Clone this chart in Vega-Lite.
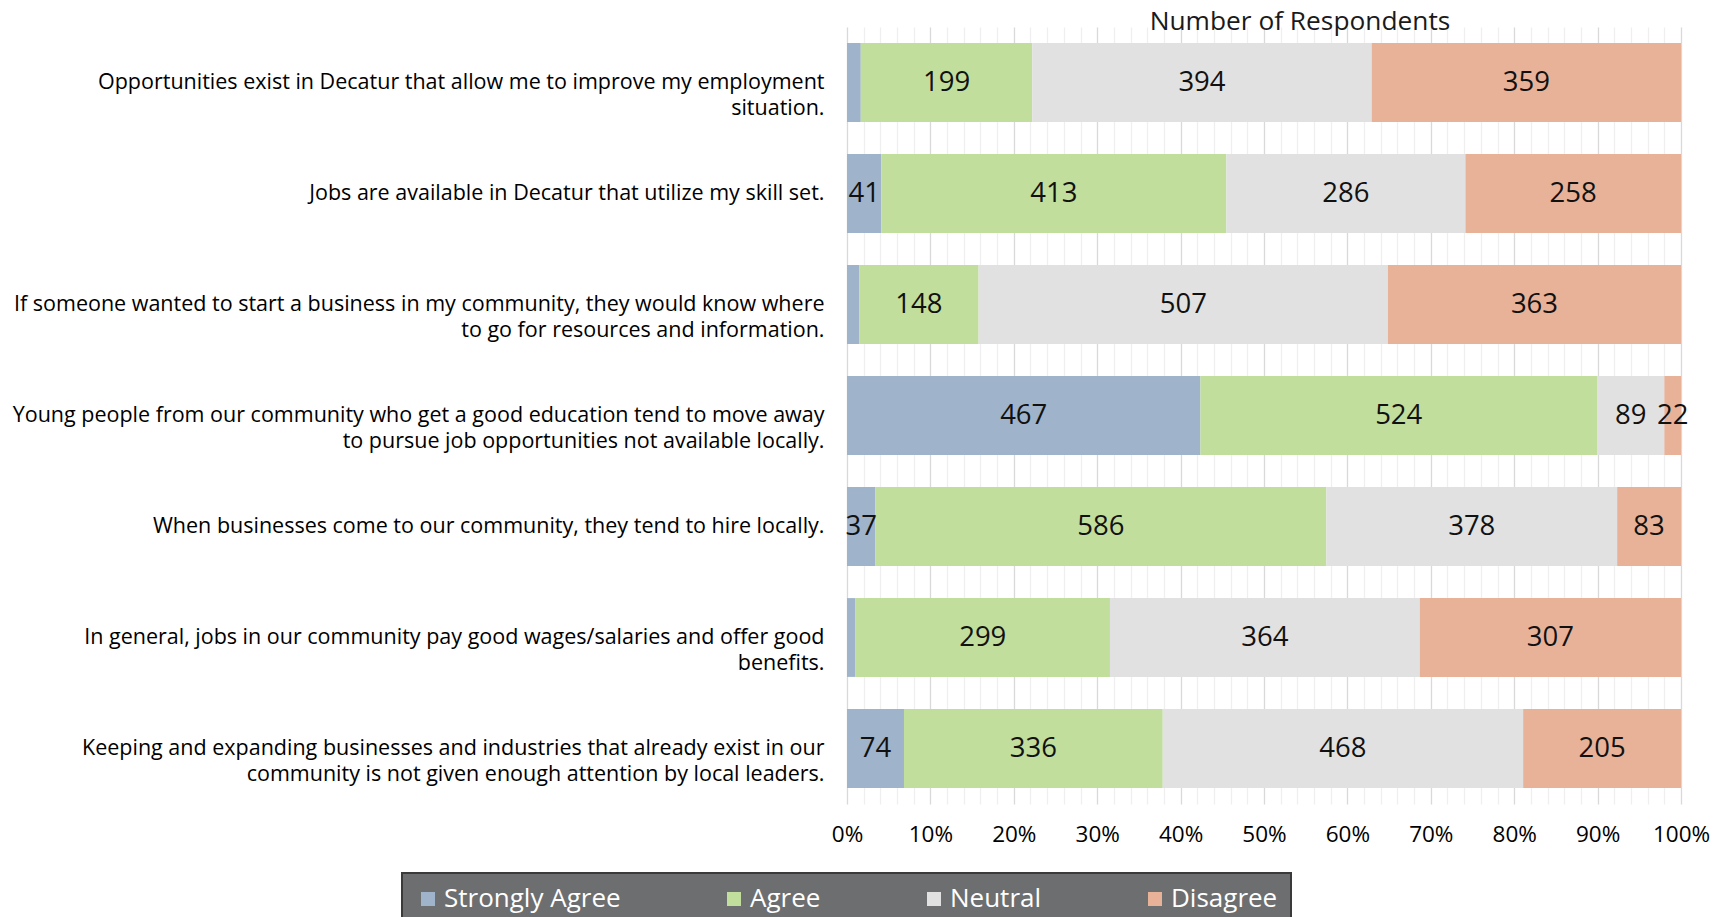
{
  "$schema": "https://vega.github.io/schema/vega-lite/v6.json",
  "autosize": {"type": "none"},
  "width": 834,
  "height": 777,
  "padding": {"left": 847, "top": 27, "right": 46, "bottom": 113},
  "background": "white",
  "title": {
    "text": "Number of Respondents",
    "font": "Open Sans",
    "fontSize": 26.3,
    "fontWeight": "normal",
    "color": "#1a1a1a",
    "anchor": "middle",
    "frame": "group",
    "baseline": "alphabetic",
    "offset": -29,
    "dx": 36
  },
  "data": {
    "values": [
      {"q": "Opportunities exist in Decatur that allow me to improve my employment|situation.", "resp": "Strongly Agree", "level": 1, "count": 16},
      {"q": "Opportunities exist in Decatur that allow me to improve my employment|situation.", "resp": "Agree", "level": 2, "count": 199},
      {"q": "Opportunities exist in Decatur that allow me to improve my employment|situation.", "resp": "Neutral", "level": 3, "count": 394},
      {"q": "Opportunities exist in Decatur that allow me to improve my employment|situation.", "resp": "Disagree", "level": 4, "count": 359},
      {"q": "Jobs are available in Decatur that utilize my skill set.", "resp": "Strongly Agree", "level": 1, "count": 41},
      {"q": "Jobs are available in Decatur that utilize my skill set.", "resp": "Agree", "level": 2, "count": 413},
      {"q": "Jobs are available in Decatur that utilize my skill set.", "resp": "Neutral", "level": 3, "count": 286},
      {"q": "Jobs are available in Decatur that utilize my skill set.", "resp": "Disagree", "level": 4, "count": 258},
      {"q": "If someone wanted to start a business in my community, they would know where|to go for resources and information.", "resp": "Strongly Agree", "level": 1, "count": 15},
      {"q": "If someone wanted to start a business in my community, they would know where|to go for resources and information.", "resp": "Agree", "level": 2, "count": 148},
      {"q": "If someone wanted to start a business in my community, they would know where|to go for resources and information.", "resp": "Neutral", "level": 3, "count": 507},
      {"q": "If someone wanted to start a business in my community, they would know where|to go for resources and information.", "resp": "Disagree", "level": 4, "count": 363},
      {"q": "Young people from our community who get a good education tend to move away|to pursue job opportunities not available locally.", "resp": "Strongly Agree", "level": 1, "count": 467},
      {"q": "Young people from our community who get a good education tend to move away|to pursue job opportunities not available locally.", "resp": "Agree", "level": 2, "count": 524},
      {"q": "Young people from our community who get a good education tend to move away|to pursue job opportunities not available locally.", "resp": "Neutral", "level": 3, "count": 89},
      {"q": "Young people from our community who get a good education tend to move away|to pursue job opportunities not available locally.", "resp": "Disagree", "level": 4, "count": 22},
      {"q": "When businesses come to our community, they tend to hire locally.", "resp": "Strongly Agree", "level": 1, "count": 37},
      {"q": "When businesses come to our community, they tend to hire locally.", "resp": "Agree", "level": 2, "count": 586},
      {"q": "When businesses come to our community, they tend to hire locally.", "resp": "Neutral", "level": 3, "count": 378},
      {"q": "When businesses come to our community, they tend to hire locally.", "resp": "Disagree", "level": 4, "count": 83},
      {"q": "In general, jobs in our community pay good wages/salaries and offer good|benefits.", "resp": "Strongly Agree", "level": 1, "count": 10},
      {"q": "In general, jobs in our community pay good wages/salaries and offer good|benefits.", "resp": "Agree", "level": 2, "count": 299},
      {"q": "In general, jobs in our community pay good wages/salaries and offer good|benefits.", "resp": "Neutral", "level": 3, "count": 364},
      {"q": "In general, jobs in our community pay good wages/salaries and offer good|benefits.", "resp": "Disagree", "level": 4, "count": 307},
      {"q": "Keeping and expanding businesses and industries that already exist in our|community is not given enough attention by local leaders.", "resp": "Strongly Agree", "level": 1, "count": 74},
      {"q": "Keeping and expanding businesses and industries that already exist in our|community is not given enough attention by local leaders.", "resp": "Agree", "level": 2, "count": 336},
      {"q": "Keeping and expanding businesses and industries that already exist in our|community is not given enough attention by local leaders.", "resp": "Neutral", "level": 3, "count": 468},
      {"q": "Keeping and expanding businesses and industries that already exist in our|community is not given enough attention by local leaders.", "resp": "Disagree", "level": 4, "count": 205}
    ]
  },
  "encoding": {
    "y": {
      "field": "q",
      "type": "nominal",
      "sort": null,
      "title": null,
      "scale": {"paddingInner": 0.29, "paddingOuter": 0.145},
      "axis": {
        "domain": false,
        "ticks": false,
        "grid": false,
        "labelExpr": "split(datum.label, '|')",
        "labelFont": "Open Sans",
        "labelFontSize": 21.5,
        "labelLineHeight": 26.5,
        "labelColor": "#000000",
        "labelPadding": 23,
        "labelLimit": 1000,
        "labelAlign": "right",
        "labelBaseline": "middle"
      }
    },
    "order": {"field": "level", "type": "quantitative", "sort": "ascending"}
  },
  "layer": [
    {
      "mark": {"type": "bar"},
      "encoding": {
        "x": {
          "aggregate": "sum",
          "field": "count",
          "type": "quantitative",
          "stack": "normalize",
          "title": null,
          "scale": {"domain": [0, 1], "nice": false},
          "axis": {
            "values": [0,0.02,0.04,0.06,0.08,0.1,0.12,0.14,0.16,0.18,0.2,0.22,0.24,0.26,0.28,0.3,0.32,0.34,0.36,0.38,0.4,0.42,0.44,0.46,0.48,0.5,0.52,0.54,0.56,0.58,0.6,0.62,0.64,0.66,0.68,0.7,0.72,0.74,0.76,0.78,0.8,0.82,0.84,0.86,0.88,0.9,0.92,0.94,0.96,0.98,1],
            "format": ".0%",
            "labelExpr": "round(datum.value*100) % 10 === 0 ? datum.label : ''",
            "domain": false,
            "ticks": false,
            "grid": true,
            "gridColor": {"condition": {"test": "round(datum.value*100) % 10 === 0", "value": "#d9d9d9"}, "value": "#efefef"},
            "gridWidth": 1.3,
            "labelFont": "Open Sans",
            "labelFontSize": 22.5,
            "labelColor": "#000000",
            "labelPadding": 19,
            "labelOverlap": false,
            "labelFlush": false
          }
        },
        "color": {
          "field": "resp",
          "type": "nominal",
          "sort": ["Strongly Agree", "Agree", "Neutral", "Disagree"],
          "scale": {
            "domain": ["Strongly Agree", "Agree", "Neutral", "Disagree"],
            "range": ["#9fb3cb", "#c1de9d", "#e1e1e1", "#e8b298"]
          },
          "legend": {
            "title": null,
            "orient": "none",
            "legendX": -445,
            "legendY": 846,
            "direction": "horizontal",
            "fillColor": "#6d6e70",
            "strokeColor": "#3a3a3a",
            "padding": 13,
            "columnPadding": 100,
            "labelColor": "#ffffff",
            "labelFont": "Open Sans",
            "labelFontSize": 26,
            "labelOffset": 3,
            "labelLimit": 400,
            "symbolType": "square",
            "symbolSize": 196,
            "symbolStrokeWidth": 0,
            "symbolOpacity": 1
          }
        }
      }
    },
    {
      "mark": {"type": "text", "font": "Open Sans", "fontSize": 27.5, "align": "center", "baseline": "middle", "color": "#111111"},
      "encoding": {
        "x": {
          "aggregate": "sum",
          "field": "count",
          "type": "quantitative",
          "stack": "normalize",
          "bandPosition": 0.5,
          "title": null,
          "scale": {"domain": [0, 1], "nice": false},
          "axis": {
            "values": [0,0.02,0.04,0.06,0.08,0.1,0.12,0.14,0.16,0.18,0.2,0.22,0.24,0.26,0.28,0.3,0.32,0.34,0.36,0.38,0.4,0.42,0.44,0.46,0.48,0.5,0.52,0.54,0.56,0.58,0.6,0.62,0.64,0.66,0.68,0.7,0.72,0.74,0.76,0.78,0.8,0.82,0.84,0.86,0.88,0.9,0.92,0.94,0.96,0.98,1],
            "format": ".0%",
            "labelExpr": "round(datum.value*100) % 10 === 0 ? datum.label : ''",
            "domain": false,
            "ticks": false,
            "grid": true,
            "gridColor": {"condition": {"test": "round(datum.value*100) % 10 === 0", "value": "#d9d9d9"}, "value": "#efefef"},
            "gridWidth": 1.3,
            "labelFont": "Open Sans",
            "labelFontSize": 22.5,
            "labelColor": "#000000",
            "labelPadding": 19,
            "labelOverlap": false,
            "labelFlush": false
          }
        },
        "detail": {"field": "resp", "type": "nominal"},
        "text": {"condition": {"test": "datum.count < 20", "value": ""}, "field": "count", "type": "quantitative"}
      }
    }
  ],
  "config": {
    "view": {"stroke": null},
    "legend": {"symbolType": "square", "strokeWidth": 2}
  }
}
